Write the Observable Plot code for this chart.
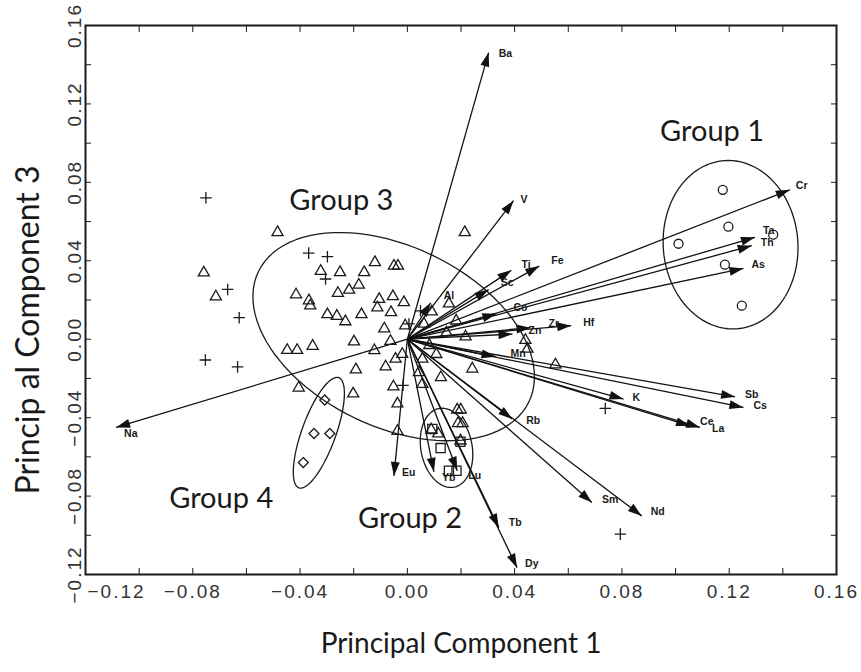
<!DOCTYPE html>
<html><head><meta charset="utf-8">
<script src="https://cdn.jsdelivr.net/npm/d3@7"></script>
<script src="https://cdn.jsdelivr.net/npm/@observablehq/plot@0.6"></script>
<style>body{margin:0;background:#fff} #chart{width:861px;height:672px}</style>
</head><body><div id="chart"></div>
<script>
// ---- element loadings (arrow tips) ----
const elements = ["Ba","V","Ti","Fe","Sc","Al","Co","Zr","Hf","Zn","Mn","K","Sb","Cs","Ce","La","Rb","Sm","Nd","Tb","Dy","Eu","Yb","Lu","Na","Cr","Ta","Th","As"];
const loadPC1 = [0.0303,0.0396,0.0388,0.0492,0.0303,0.0087,0.0332,0.0459,0.0611,0.0392,0.0329,0.0806,0.1222,0.1253,0.1054,0.1091,0.0391,0.0688,0.0874,0.0341,0.0409,-0.0050,0.0099,0.0186,-0.1086,0.1426,0.1296,0.1284,0.1253];
const loadPC3 = [0.1462,0.0707,0.0352,0.0373,0.0253,0.0186,0.0130,0.0059,0.0069,0.0026,-0.0089,-0.0305,-0.0294,-0.0348,-0.0442,-0.0450,-0.0407,-0.0833,-0.0901,-0.0961,-0.1165,-0.0697,-0.0676,-0.0671,-0.0450,0.0762,0.0520,0.0477,0.0361];

// ---- sample scores ----
const triPC1 = [-0.0484,-0.0759,-0.0714,-0.0323,-0.0251,-0.0161,-0.0121,-0.0050,-0.0035,-0.0181,-0.0217,-0.0259,-0.0415,-0.0367,-0.0362,-0.0105,-0.0054,-0.0112,-0.0061,-0.0298,-0.0263,-0.0231,-0.0171,-0.0086,-0.0448,-0.0411,-0.0353,-0.0199,-0.0123,-0.0063,-0.0044,-0.0019,-0.0192,-0.0081,-0.0405,-0.0202,-0.0052,-0.0037,-0.0037,-0.0013,-0.0008,0.0062,0.0091,0.0155,0.0182,0.0146,0.0217,0.0082,0.0056,0.0108,0.0242,0.0440,0.0448,0.0552,0.0125,0.0056,0.0043,0.0186,0.0199,0.0189,0.0206,0.0089,0.0115,0.0198,0.0214];
const triPC3 = [0.0545,0.0339,0.0217,0.0347,0.0341,0.0341,0.0392,0.0374,0.0374,0.0277,0.0251,0.0235,0.0227,0.0197,0.0171,0.0204,0.0218,0.0161,0.0137,0.0126,0.0118,0.0090,0.0126,0.0054,-0.0056,-0.0056,-0.0035,-0.0013,-0.0057,-0.0010,-0.0101,-0.0076,-0.0155,-0.0140,-0.0248,-0.0278,-0.0242,-0.0329,-0.0469,0.0188,0.0069,0.0078,0.0140,0.0181,0.0094,0.0033,0.0013,-0.0031,-0.0101,-0.0077,-0.0151,-0.0005,-0.0050,-0.0130,-0.0195,-0.0229,-0.0169,-0.0360,-0.0360,-0.0429,-0.0429,-0.0462,-0.0482,-0.0518,0.0545];
const plusPC1 = [-0.0751,-0.0368,-0.0298,-0.0305,-0.0670,-0.0627,-0.0753,-0.0633,-0.0016,0.0049,0.0006,0.0738,0.0794];
const plusPC3 = [0.0721,0.0439,0.0421,0.0307,0.0254,0.0110,-0.0106,-0.0141,-0.0235,0.0145,0.0078,-0.0353,-0.0994];
const circPC1 = [0.1176,0.1197,0.1011,0.1364,0.1184,0.1247];
const circPC3 = [0.0762,0.0574,0.0487,0.0533,0.0380,0.0171];
const diamPC1 = [-0.0308,-0.0348,-0.0289,-0.0388];
const diamPC3 = [-0.0310,-0.0481,-0.0481,-0.0629];
const sqPC1 = [0.0093,0.0124,0.0155,0.0183,0.0198];
const sqPC3 = [-0.0458,-0.0555,-0.0671,-0.0671,-0.0523];

// ---- group ellipses: centre and two semi-axis vectors (data units) ----
const groupNames = ["Group 1","Group 2","Group 3","Group 4"];
const ellCX = [0.1205, 0.0146, -0.0051, -0.0330];
const ellCY = [0.0482, -0.0554, 0.0013, -0.0477];
const ellAX = [0.00242, 0.00283, 0.05045, -0.00744];
const ellAY = [-0.04288, -0.02006, -0.03313, -0.02808];
const ellBX = [0.02504, 0.00938, -0.01448, 0.00595];
const ellBY = [0.00265, 0.00250, -0.04150, -0.00296];
const groupLabelX = [0.1136, 0.0010, -0.0246, -0.0694];
const groupLabelY = [0.1059, -0.0916, 0.0707, -0.0814];

// ---- ticks ----
const minorTicks = [-0.12,-0.10,-0.08,-0.06,-0.04,-0.02,0,0.02,0.04,0.06,0.08,0.10,0.12,0.14,0.16];
const xTickLabels = [-0.08,-0.04,0,0.04,0.08,0.12,0.16];
const xFirstLabel = [-0.12];
const yTickLabels = [-0.12,-0.08,-0.04,0,0.04,0.08,0.12,0.16];

// ---- build tables ----
const loads = elements.map((e,i)=>({el:e, x:loadPC1[i], y:loadPC3[i]}));
const pts = (xs, ys) => xs.map((x,i)=>({x, y:ys[i]}));
const ellPts = [];
groupNames.forEach((g,k)=>{
  for (let j=0;j<=96;j++){
    const t = j/96*2*Math.PI;
    ellPts.push({g, x: ellCX[k]+ellAX[k]*Math.cos(t)+ellBX[k]*Math.sin(t),
                    y: ellCY[k]+ellAY[k]*Math.cos(t)+ellBY[k]*Math.sin(t)});
  }
});
const groups = groupNames.map((g,k)=>({g, x:groupLabelX[k], y:groupLabelY[k]}));

// label nudges (layout only)
const nudge = {Ba:[10,1],V:[7,-1],Ti:[10,-6],Fe:[12,-5],Sc:[12,-7],Al:[13,-7],Co:[17,-6],Zr:[18,-4],Hf:[12,-3],Zn:[16,-3],Mn:[15,-3],K:[9,-1],Sb:[10,-2],Cs:[10,-2],Ce:[10,-4],La:[12,1],Rb:[14,2],Sm:[10,-3],Nd:[9,-4],Tb:[10,-5],Dy:[8,-4],Eu:[8,-3],Yb:[8,6],Lu:[11,5],Na:[8,6],Cr:[6,-4],Ta:[8,-7],Th:[9,-3],As:[8,-4]};

const fmt = d => (d < 0 ? "\u2212" : "") + Math.abs(d).toFixed(2);
const ink = "#1a1a1a";
const tickFont = {fontFamily: "Liberation Sans, Arial, sans-serif", fontSize: 19};
const titleFont = "Lato, 'Open Sans', sans-serif";

const labelMarks = loads.map(d => Plot.text([d], {
  x: "x", y: "y", text: "el", textAnchor: "start",
  dx: nudge[d.el][0], dy: nudge[d.el][1],
  fontSize: 10.5, fontWeight: "bold", fontFamily: "Liberation Sans, Arial, sans-serif", fill: ink
}));

const chart = Plot.plot({
  width: 861, height: 672,
  marginLeft: 85, marginRight: 25, marginTop: 25, marginBottom: 98,
  x: {domain: [-0.12, 0.16]},
  y: {domain: [-0.12, 0.16]},
  style: {background: "white", color: ink},
  marks: [
    Plot.line(ellPts, {x:"x", y:"y", z:"g", curve:"linear-closed", stroke: ink, strokeWidth: 1.3}),
    Plot.link(loads, {x1: 0, y1: 0, x2: "x", y2: "y", stroke: "#111", strokeWidth: 1.3, markerEnd: "arrow"}),
    Plot.dot(pts(triPC1, triPC3), {x:"x", y:"y", symbol:"triangle2", r:5.3, stroke: ink, strokeWidth:1.3, fill:"none"}),
    Plot.dot(pts(plusPC1, plusPC3), {x:"x", y:"y", symbol:"plus", r:3.8, stroke: ink, strokeWidth:1.3}),
    Plot.dot(pts(circPC1, circPC3), {x:"x", y:"y", symbol:"circle", r:4.5, stroke: ink, strokeWidth:1.3, fill:"none"}),
    Plot.dot(pts(diamPC1, diamPC3), {x:"x", y:"y", symbol:"diamond2", r:4.5, stroke: ink, strokeWidth:1.3, fill:"none"}),
    Plot.dot(pts(sqPC1, sqPC3), {x:"x", y:"y", symbol:"square2", r:5.8, stroke: ink, strokeWidth:1.3, fill:"none"}),
    ...labelMarks,
    Plot.text(groups, {x:"x", y:"y", text:"g", fontSize: 29, fontFamily: titleFont, fill: ink}),
    Plot.frame({stroke: ink, strokeWidth: 2}),
    Plot.axisX({ticks: minorTicks, anchor: "bottom", tickSize: -6, text: null, label: null, stroke: ink}),
    Plot.axisX({ticks: minorTicks, anchor: "top", tickSize: -6, text: null, label: null, stroke: ink}),
    Plot.axisY({ticks: minorTicks, anchor: "left", tickSize: -6, text: null, label: null, stroke: ink}),
    Plot.axisY({ticks: minorTicks, anchor: "right", tickSize: -6, text: null, label: null, stroke: ink}),
    Plot.axisX({ticks: xTickLabels, anchor: "bottom", tickSize: 0, tickPadding: 10, tickFormat: fmt, label: null, ...tickFont, fill: "#333"}),
    Plot.axisX({ticks: xFirstLabel, anchor: "bottom", tickSize: 0, tickPadding: 10, dx: 31, tickFormat: fmt, label: null, ...tickFont, fill: "#333"}),
    Plot.axisY({ticks: yTickLabels, anchor: "left", tickSize: 0, tickPadding: 5, tickRotate: -90, tickFormat: fmt, label: null, ...tickFont, fill: "#333"}),
    Plot.text(["Principal Component 1"], {frameAnchor: "bottom", dy: 78, fontSize: 28, fontFamily: titleFont, fill: ink}),
    Plot.text(["Princip al Component 3"], {frameAnchor: "left", textAnchor: "middle", rotate: -90, dx: -57, dy: 30, fontSize: 32, fontFamily: titleFont, fill: ink})
  ]
});

document.getElementById("chart").append(chart);
const svg = chart.tagName.toLowerCase() === "svg" ? chart : chart.querySelector("svg");
svg.querySelectorAll("text").forEach(t => { if (/^[−\d.]+$/.test(t.textContent)) t.setAttribute("letter-spacing", "2"); });
const defs = document.createElementNS("http://www.w3.org/2000/svg", "defs");
defs.innerHTML = '<marker id="ahead" viewBox="-15 -5 16 10" refX="0" refY="0" markerWidth="16" markerHeight="10" markerUnits="userSpaceOnUse" orient="auto"><path d="M-14,-4.5L0,0L-14,4.5Z" fill="#111" stroke="none"/></marker>';
svg.prepend(defs);
svg.querySelectorAll('[marker-end]').forEach(p => p.setAttribute("marker-end", "url(#ahead)"));
</script>
</body></html>
